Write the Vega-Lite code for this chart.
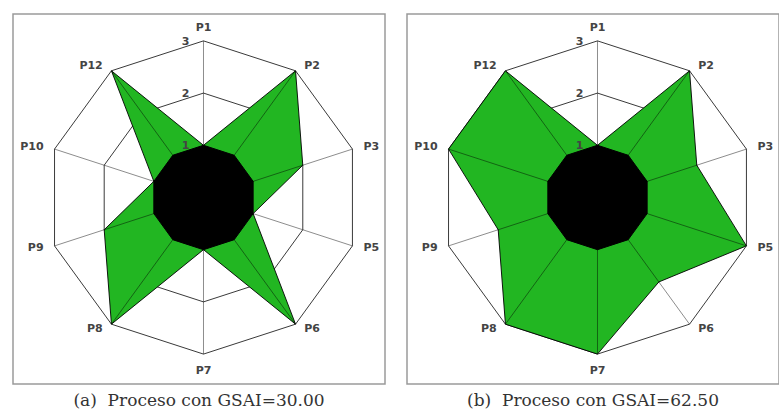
{
  "$schema": "https://vega.github.io/schema/vega-lite/v6.json",
  "background": "white",
  "padding": {"left": 12, "top": 13, "right": 0, "bottom": 0},
  "spacing": 20,
  "config": {
    "view": {"stroke": "#9a9a9a", "strokeWidth": 1.5},
    "title": {"font": "DejaVu Serif", "fontSize": 17, "fontWeight": "normal", "color": "#333", "orient": "bottom", "offset": 9}
  },
  "datasets": {
    "grid": [
      {"level": 1, "axis": "P1", "k": 0}, {"level": 1, "axis": "P2", "k": 1}, {"level": 1, "axis": "P3", "k": 2}, {"level": 1, "axis": "P5", "k": 3}, {"level": 1, "axis": "P6", "k": 4},
      {"level": 1, "axis": "P7", "k": 5}, {"level": 1, "axis": "P8", "k": 6}, {"level": 1, "axis": "P9", "k": 7}, {"level": 1, "axis": "P10", "k": 8}, {"level": 1, "axis": "P12", "k": 9},
      {"level": 2, "axis": "P1", "k": 0}, {"level": 2, "axis": "P2", "k": 1}, {"level": 2, "axis": "P3", "k": 2}, {"level": 2, "axis": "P5", "k": 3}, {"level": 2, "axis": "P6", "k": 4},
      {"level": 2, "axis": "P7", "k": 5}, {"level": 2, "axis": "P8", "k": 6}, {"level": 2, "axis": "P9", "k": 7}, {"level": 2, "axis": "P10", "k": 8}, {"level": 2, "axis": "P12", "k": 9},
      {"level": 3, "axis": "P1", "k": 0}, {"level": 3, "axis": "P2", "k": 1}, {"level": 3, "axis": "P3", "k": 2}, {"level": 3, "axis": "P5", "k": 3}, {"level": 3, "axis": "P6", "k": 4},
      {"level": 3, "axis": "P7", "k": 5}, {"level": 3, "axis": "P8", "k": 6}, {"level": 3, "axis": "P9", "k": 7}, {"level": 3, "axis": "P10", "k": 8}, {"level": 3, "axis": "P12", "k": 9}
    ],
    "scores": [
      {"panel": "a", "axis": "P1", "k": 0, "value": 1}, {"panel": "a", "axis": "P2", "k": 1, "value": 3}, {"panel": "a", "axis": "P3", "k": 2, "value": 2},
      {"panel": "a", "axis": "P5", "k": 3, "value": 1}, {"panel": "a", "axis": "P6", "k": 4, "value": 3}, {"panel": "a", "axis": "P7", "k": 5, "value": 1},
      {"panel": "a", "axis": "P8", "k": 6, "value": 3}, {"panel": "a", "axis": "P9", "k": 7, "value": 2}, {"panel": "a", "axis": "P10", "k": 8, "value": 1},
      {"panel": "a", "axis": "P12", "k": 9, "value": 3},
      {"panel": "b", "axis": "P1", "k": 0, "value": 1}, {"panel": "b", "axis": "P2", "k": 1, "value": 3}, {"panel": "b", "axis": "P3", "k": 2, "value": 2},
      {"panel": "b", "axis": "P5", "k": 3, "value": 3}, {"panel": "b", "axis": "P6", "k": 4, "value": 2}, {"panel": "b", "axis": "P7", "k": 5, "value": 3},
      {"panel": "b", "axis": "P8", "k": 6, "value": 3}, {"panel": "b", "axis": "P9", "k": 7, "value": 2}, {"panel": "b", "axis": "P10", "k": 8, "value": 3},
      {"panel": "b", "axis": "P12", "k": 9, "value": 3}
    ]
  },
  "hconcat": [
    {
      "width": 372, "height": 370,
      "title": {"text": "(a)\u00a0\u00a0Proceso con GSAI=30.00"},
      "encoding": {
        "x": {"field": "px", "type": "quantitative", "scale": {"domain": [-3.649, 3.477], "nice": false, "zero": false}, "axis": null},
        "y": {"field": "py", "type": "quantitative", "scale": {"domain": [-3.573, 3.515], "nice": false, "zero": false}, "axis": null}
      },
      "layer": [
        {
          "data": {"name": "grid"},
          "transform": [
            {"filter": "datum.level >= 2"},
            {"calculate": "datum.k * PI / 5", "as": "t"},
            {"calculate": "datum.level * sin(datum.t)", "as": "px"},
            {"calculate": "datum.level * cos(datum.t)", "as": "py"}
          ],
          "mark": {"type": "line", "interpolate": "linear-closed", "stroke": "#3a3a3a", "strokeWidth": 1},
          "encoding": {"detail": {"field": "level"}, "order": {"field": "k"}}
        },
        {
          "data": {"name": "scores"},
          "transform": [
            {"filter": "datum.panel == 'a'"},
            {"calculate": "datum.k * PI / 5", "as": "t"},
            {"calculate": "datum.value * sin(datum.t)", "as": "px"},
            {"calculate": "datum.value * cos(datum.t)", "as": "py"}
          ],
          "mark": {"type": "line", "interpolate": "linear-closed", "fill": "#22b622", "stroke": "#000", "strokeWidth": 0.9},
          "encoding": {"order": {"field": "k"}}
        },
        {
          "data": {"name": "grid"},
          "transform": [
            {"filter": "datum.level == 3"},
            {"calculate": "datum.k * PI / 5", "as": "t"},
            {"calculate": "3 * sin(datum.t)", "as": "px"},
            {"calculate": "3 * cos(datum.t)", "as": "py"}
          ],
          "mark": {"type": "rule", "color": "#000", "opacity": 0.45, "strokeWidth": 1},
          "encoding": {"x2": {"datum": 0}, "y2": {"datum": 0}}
        },
        {
          "data": {"name": "grid"},
          "transform": [
            {"filter": "datum.level == 1"},
            {"calculate": "datum.k * PI / 5", "as": "t"},
            {"calculate": "sin(datum.t)", "as": "px"},
            {"calculate": "cos(datum.t)", "as": "py"}
          ],
          "mark": {"type": "line", "interpolate": "linear-closed", "fill": "#000", "stroke": "#000", "strokeWidth": 1},
          "encoding": {"order": {"field": "k"}}
        },
        {
          "data": {"name": "grid"},
          "transform": [
            {"filter": "datum.k == 0"},
            {"calculate": "0", "as": "px"},
            {"calculate": "datum.level", "as": "py"}
          ],
          "mark": {"type": "text", "align": "right", "baseline": "middle", "dx": -14, "dy": 1, "font": "DejaVu Sans", "fontSize": 11, "fontWeight": "bold", "fill": "#444"},
          "encoding": {"text": {"field": "level"}}
        },
        {
          "data": {"name": "grid"},
          "transform": [
            {"filter": "datum.level == 3 && (datum.k == 0 || datum.k == 5)"},
            {"calculate": "datum.k * PI / 5", "as": "t"},
            {"calculate": "datum.k == 0 ? 3.24 : 3.32", "as": "lr"},
            {"calculate": "datum.lr * sin(datum.t)", "as": "px"},
            {"calculate": "datum.lr * cos(datum.t)", "as": "py"}
          ],
          "mark": {"type": "text", "align": "center", "baseline": "middle", "font": "DejaVu Sans", "fontSize": 11, "fontWeight": "bold", "fill": "#444"},
          "encoding": {"text": {"field": "axis"}}
        },
        {
          "data": {"name": "grid"},
          "transform": [
            {"filter": "datum.level == 3 && datum.k >= 1 && datum.k <= 4"},
            {"calculate": "datum.k * PI / 5", "as": "t"},
            {"calculate": "3.12 * sin(datum.t)", "as": "px"},
            {"calculate": "3.12 * cos(datum.t)", "as": "py"}
          ],
          "mark": {"type": "text", "align": "left", "baseline": "middle", "dx": 5, "font": "DejaVu Sans", "fontSize": 11, "fontWeight": "bold", "fill": "#444"},
          "encoding": {"text": {"field": "axis"}}
        },
        {
          "data": {"name": "grid"},
          "transform": [
            {"filter": "datum.level == 3 && datum.k >= 6"},
            {"calculate": "datum.k * PI / 5", "as": "t"},
            {"calculate": "3.12 * sin(datum.t)", "as": "px"},
            {"calculate": "3.12 * cos(datum.t)", "as": "py"}
          ],
          "mark": {"type": "text", "align": "right", "baseline": "middle", "dx": -5, "font": "DejaVu Sans", "fontSize": 11, "fontWeight": "bold", "fill": "#444"},
          "encoding": {"text": {"field": "axis"}}
        }
      ]
    },
    {
      "width": 372, "height": 370,
      "title": {"text": "(b)\u00a0\u00a0Proceso con GSAI=62.50"},
      "encoding": {
        "x": {"field": "px", "type": "quantitative", "scale": {"domain": [-3.649, 3.477], "nice": false, "zero": false}, "axis": null},
        "y": {"field": "py", "type": "quantitative", "scale": {"domain": [-3.573, 3.515], "nice": false, "zero": false}, "axis": null}
      },
      "layer": [
        {
          "data": {"name": "grid"},
          "transform": [
            {"filter": "datum.level >= 2"},
            {"calculate": "datum.k * PI / 5", "as": "t"},
            {"calculate": "datum.level * sin(datum.t)", "as": "px"},
            {"calculate": "datum.level * cos(datum.t)", "as": "py"}
          ],
          "mark": {"type": "line", "interpolate": "linear-closed", "stroke": "#3a3a3a", "strokeWidth": 1},
          "encoding": {"detail": {"field": "level"}, "order": {"field": "k"}}
        },
        {
          "data": {"name": "scores"},
          "transform": [
            {"filter": "datum.panel == 'b'"},
            {"calculate": "datum.k * PI / 5", "as": "t"},
            {"calculate": "datum.value * sin(datum.t)", "as": "px"},
            {"calculate": "datum.value * cos(datum.t)", "as": "py"}
          ],
          "mark": {"type": "line", "interpolate": "linear-closed", "fill": "#22b622", "stroke": "#000", "strokeWidth": 0.9},
          "encoding": {"order": {"field": "k"}}
        },
        {
          "data": {"name": "grid"},
          "transform": [
            {"filter": "datum.level == 3"},
            {"calculate": "datum.k * PI / 5", "as": "t"},
            {"calculate": "3 * sin(datum.t)", "as": "px"},
            {"calculate": "3 * cos(datum.t)", "as": "py"}
          ],
          "mark": {"type": "rule", "color": "#000", "opacity": 0.45, "strokeWidth": 1},
          "encoding": {"x2": {"datum": 0}, "y2": {"datum": 0}}
        },
        {
          "data": {"name": "grid"},
          "transform": [
            {"filter": "datum.level == 1"},
            {"calculate": "datum.k * PI / 5", "as": "t"},
            {"calculate": "sin(datum.t)", "as": "px"},
            {"calculate": "cos(datum.t)", "as": "py"}
          ],
          "mark": {"type": "line", "interpolate": "linear-closed", "fill": "#000", "stroke": "#000", "strokeWidth": 1},
          "encoding": {"order": {"field": "k"}}
        },
        {
          "data": {"name": "grid"},
          "transform": [
            {"filter": "datum.k == 0"},
            {"calculate": "0", "as": "px"},
            {"calculate": "datum.level", "as": "py"}
          ],
          "mark": {"type": "text", "align": "right", "baseline": "middle", "dx": -14, "dy": 1, "font": "DejaVu Sans", "fontSize": 11, "fontWeight": "bold", "fill": "#444"},
          "encoding": {"text": {"field": "level"}}
        },
        {
          "data": {"name": "grid"},
          "transform": [
            {"filter": "datum.level == 3 && (datum.k == 0 || datum.k == 5)"},
            {"calculate": "datum.k * PI / 5", "as": "t"},
            {"calculate": "datum.k == 0 ? 3.24 : 3.32", "as": "lr"},
            {"calculate": "datum.lr * sin(datum.t)", "as": "px"},
            {"calculate": "datum.lr * cos(datum.t)", "as": "py"}
          ],
          "mark": {"type": "text", "align": "center", "baseline": "middle", "font": "DejaVu Sans", "fontSize": 11, "fontWeight": "bold", "fill": "#444"},
          "encoding": {"text": {"field": "axis"}}
        },
        {
          "data": {"name": "grid"},
          "transform": [
            {"filter": "datum.level == 3 && datum.k >= 1 && datum.k <= 4"},
            {"calculate": "datum.k * PI / 5", "as": "t"},
            {"calculate": "3.12 * sin(datum.t)", "as": "px"},
            {"calculate": "3.12 * cos(datum.t)", "as": "py"}
          ],
          "mark": {"type": "text", "align": "left", "baseline": "middle", "dx": 5, "font": "DejaVu Sans", "fontSize": 11, "fontWeight": "bold", "fill": "#444"},
          "encoding": {"text": {"field": "axis"}}
        },
        {
          "data": {"name": "grid"},
          "transform": [
            {"filter": "datum.level == 3 && datum.k >= 6"},
            {"calculate": "datum.k * PI / 5", "as": "t"},
            {"calculate": "3.12 * sin(datum.t)", "as": "px"},
            {"calculate": "3.12 * cos(datum.t)", "as": "py"}
          ],
          "mark": {"type": "text", "align": "right", "baseline": "middle", "dx": -5, "font": "DejaVu Sans", "fontSize": 11, "fontWeight": "bold", "fill": "#444"},
          "encoding": {"text": {"field": "axis"}}
        }
      ]
    }
  ]
}
